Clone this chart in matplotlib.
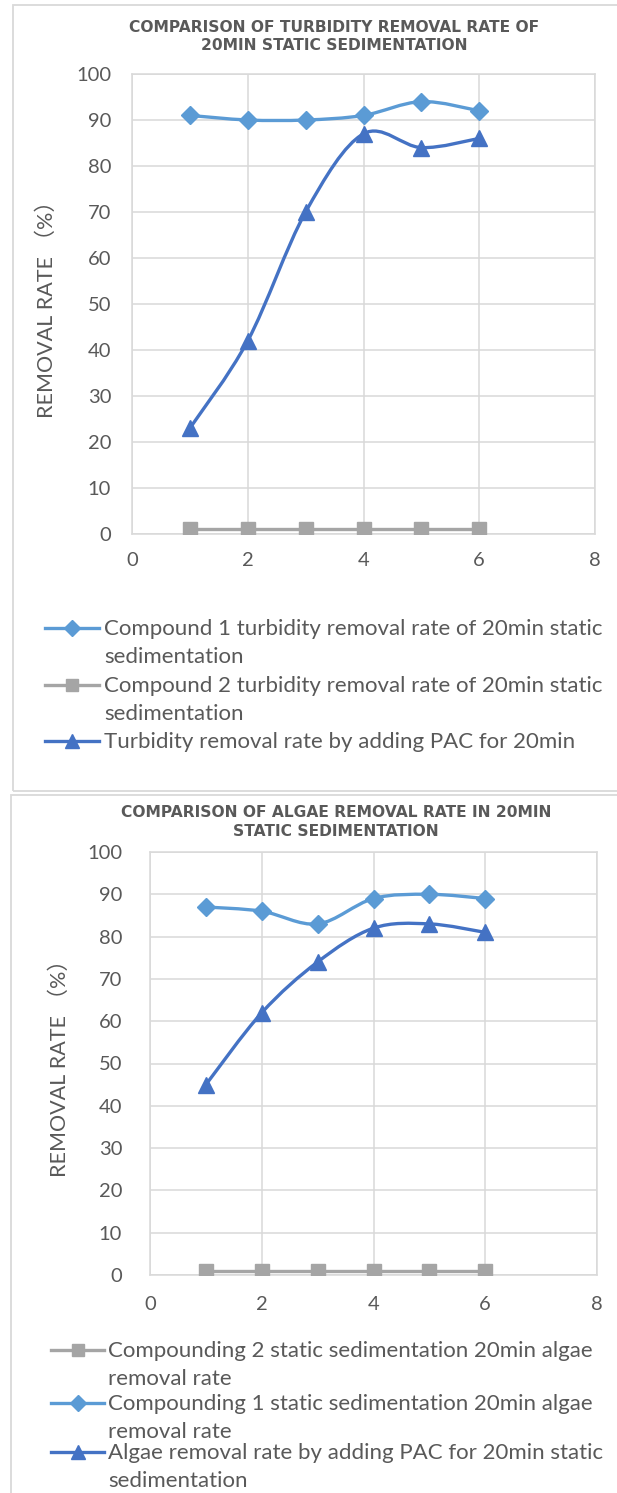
import matplotlib
matplotlib.use("Agg")
import matplotlib.pyplot as plt
from matplotlib.path import Path
from matplotlib.patches import PathPatch, Rectangle
from matplotlib.lines import Line2D

W, H = 617, 1493
TEXT = "#595959"
GRID = "#D9D9D9"
LIGHT_BLUE = "#5B9BD5"
GRAY = "#A5A5A5"
BLUE = "#4472C4"
FONT = ["Lato", "Noto Sans CJK SC", "DejaVu Sans"]

x_vals = [1, 2, 3, 4, 5, 6]

# chart 1: turbidity
turb_compound1 = [91, 90, 90, 91, 94, 92]
turb_compound2 = [1, 1, 1, 1, 1, 1]
turb_pac = [23, 42, 70, 87, 84, 86]
turb_labels = [
    "Compound 1 turbidity removal rate of 20min static\nsedimentation",
    "Compound 2 turbidity removal rate of 20min static\nsedimentation",
    "Turbidity removal rate by adding PAC for 20min",
]
turb_title = "COMPARISON OF TURBIDITY REMOVAL RATE OF\n20MIN STATIC SEDIMENTATION"

# chart 2: algae
algae_compound2 = [1, 1, 1, 1, 1, 1]
algae_compound1 = [87, 86, 83, 89, 90, 89]
algae_pac = [45, 62, 74, 82, 83, 81]
algae_labels = [
    "Compounding 2 static sedimentation 20min algae\nremoval rate",
    "Compounding 1 static sedimentation 20min algae\nremoval rate",
    "Algae removal rate by adding PAC for 20min static\nsedimentation",
]
algae_title = "COMPARISON OF ALGAE REMOVAL RATE IN 20MIN\nSTATIC SEDIMENTATION"

y_label = "REMOVAL RATE （%）"

plt.rcParams['font.family'] = FONT


def fx(px):
    return px / W


def fy(py):
    return 1 - py / H


def smooth_line(ax, xs, ys, color):
    # excel style smoothed line: cubic bezier through every point
    pts = list(zip(xs, ys))
    n = len(pts)
    verts = [pts[0]]
    codes = [Path.MOVETO]
    for i in range(n - 1):
        p0 = pts[max(i - 1, 0)]
        p1 = pts[i]
        p2 = pts[i + 1]
        p3 = pts[min(i + 2, n - 1)]
        c1 = (p1[0] + (p2[0] - p0[0]) / 6, p1[1] + (p2[1] - p0[1]) / 6)
        c2 = (p2[0] - (p3[0] - p1[0]) / 6, p2[1] - (p3[1] - p1[1]) / 6)
        verts += [c1, c2, p2]
        codes += [Path.CURVE4] * 3
    ax.add_patch(PathPatch(Path(verts, codes), fill=False, edgecolor=color,
                           lw=2.4, capstyle='round', joinstyle='round', zorder=3))


def make_axes(fig, left, right, top, bottom, ypad, xpad, label_right):
    ax = fig.add_axes([fx(left), fy(bottom), fx(right - left), (bottom - top) / H])
    ax.set_xlim(0, 8)
    ax.set_ylim(0, 100)
    ax.set_xticks(range(0, 9, 2))
    ax.set_yticks(range(0, 101, 10))
    ax.grid(True, color=GRID, lw=1.1)
    ax.set_axisbelow(True)
    for s in ax.spines.values():
        s.set_color(GRID)
        s.set_linewidth(1.1)
    ax.tick_params(length=0, labelsize=14.5, colors=TEXT)
    ax.tick_params(axis='y', pad=ypad)
    ax.tick_params(axis='x', pad=xpad)
    ax.set_ylabel(y_label, fontsize=15.5, color=TEXT)
    ax.yaxis.set_label_coords((label_right - left) / (right - left), 0.5)
    return ax


def legend_entry(fig, y, x0, x1, xt, color, marker, ms, label):
    fig.add_artist(Line2D([fx(x0), fx(x1)], [fy(y), fy(y)], color=color, lw=2.4,
                          transform=fig.transFigure))
    fig.add_artist(Line2D([fx((x0 + x1) / 2)], [fy(y)], color=color, marker=marker,
                          markersize=ms, transform=fig.transFigure))
    fig.text(fx(xt), fy(y - 9), label, fontsize=16, color=TEXT, va='top',
             ha='left', linespacing=1.52)


fig = plt.figure(figsize=(W / 100, H / 100), dpi=100)

# panel frames
fig.add_artist(Rectangle((fx(13), fy(791)), fx(700), (791 - 5) / H, fill=False,
                         edgecolor=GRID, lw=1.3, transform=fig.transFigure))
fig.add_artist(Rectangle((fx(11), fy(1600)), fx(700), (1600 - 795) / H, fill=False,
                         edgecolor=GRID, lw=1.3, transform=fig.transFigure))

# chart 1
ax1 = make_axes(fig, 132, 595, 74, 534, 15, 13, 57)
ax1.plot(x_vals, turb_compound2, color=GRAY, lw=2.4, marker='s', ms=10.5, zorder=3)
smooth_line(ax1, x_vals, turb_compound1, LIGHT_BLUE)
ax1.plot(x_vals, turb_compound1, ls='none', color=LIGHT_BLUE, marker='D', ms=9, zorder=4)
smooth_line(ax1, x_vals, turb_pac, BLUE)
ax1.plot(x_vals, turb_pac, ls='none', color=BLUE, marker='^', ms=12, zorder=4)
fig.text(fx(334), fy(36.5), turb_title, ha='center', va='center', fontsize=11.2,
         fontweight='bold', color=TEXT, family='DejaVu Sans', linespacing=1.3)

legend_entry(fig, 628, 45, 99, 104, LIGHT_BLUE, 'D', 8, turb_labels[0])
legend_entry(fig, 685, 45, 99, 104, GRAY, 's', 9, turb_labels[1])
legend_entry(fig, 741, 45, 99, 104, BLUE, '^', 10, turb_labels[2])

# chart 2
ax2 = make_axes(fig, 150, 597, 852, 1275, 20, 15, 70)
ax2.plot(x_vals, algae_compound2, color=GRAY, lw=2.4, marker='s', ms=10.5, zorder=3)
smooth_line(ax2, x_vals, algae_compound1, LIGHT_BLUE)
ax2.plot(x_vals, algae_compound1, ls='none', color=LIGHT_BLUE, marker='D', ms=9, zorder=4)
smooth_line(ax2, x_vals, algae_pac, BLUE)
ax2.plot(x_vals, algae_pac, ls='none', color=BLUE, marker='^', ms=12, zorder=4)
fig.text(fx(336), fy(822), algae_title, ha='center', va='center', fontsize=11.2,
         fontweight='bold', color=TEXT, family='DejaVu Sans', linespacing=1.3)

legend_entry(fig, 1350, 51, 104, 108, GRAY, 's', 9, algae_labels[0])
legend_entry(fig, 1403, 51, 104, 108, LIGHT_BLUE, 'D', 8, algae_labels[1])
legend_entry(fig, 1452, 51, 104, 108, BLUE, '^', 10, algae_labels[2])

fig.savefig("out.png", dpi=100)
